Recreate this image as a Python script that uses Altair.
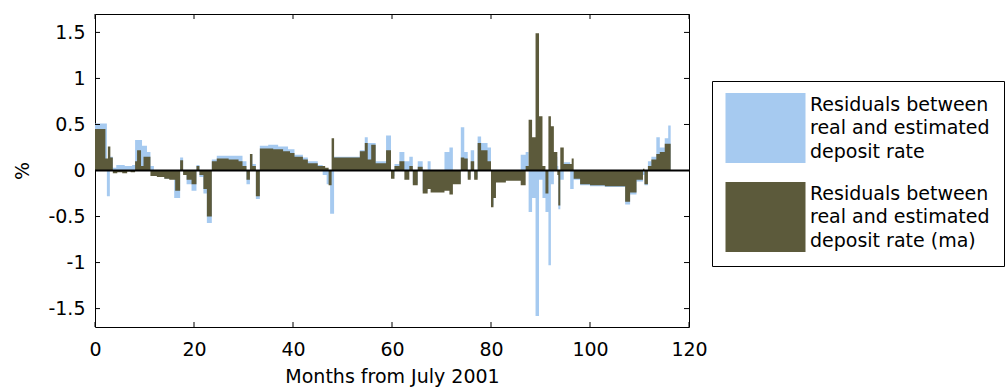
import altair as alt
import pandas as pd

# ---------------- data ----------------
# step breakpoints (months from July 2001) and residual values (%)
RES_M = [0, 2.4, 3.0, 3.6, 4.3, 6.0, 7.5, 8.1, 9.5, 10.5, 11.2, 11.9, 14.0, 16.0, 17.2, 17.8,
         18.5, 19.5, 20.5, 21.1, 21.9, 22.6, 23.6, 24.6, 29.8, 30.6, 31.3, 31.8, 32.5, 33.3,
         35.0, 37.0, 39.0, 40.3, 42.0, 43.0, 45.0, 46.0, 46.8, 47.5, 48.3, 53.5, 54.5, 55.1,
         55.8, 56.7, 58.8, 59.8, 60.5, 61.5, 62.5, 63.5, 64.2, 65.2, 66.2, 67.2, 67.8, 70.6,
         71.6, 72.3, 73.9, 74.6, 75.3, 75.9, 76.6, 77.3, 78.0, 79.3, 80.0, 80.5, 81.0, 83.0,
         86.0, 87.0, 87.6, 88.3, 89.0, 89.7, 90.4, 91.0, 91.6, 92.1, 92.7, 93.4, 93.6, 94.0,
         94.7, 96.0, 96.7, 98.0, 100.0, 103.0, 107.1, 108.1, 109.4, 110.7, 111.0, 111.7,
         112.4, 113.4, 114.1, 115.1, 115.8]
RES_V = [0.51, -0.28, 0.15, 0.03, 0.06, 0.05, 0.06, 0.33, 0.27, 0.20, 0.05, -0.06, -0.09, -0.30, 0.14, -0.03,
         -0.15, -0.22, 0.06, -0.07, -0.25, -0.57, 0.12, 0.16, 0.10, -0.15, 0.18, 0.07, -0.31, 0.27,
         0.28, 0.26, 0.23, 0.17, 0.14, 0.10, 0.06, -0.05, -0.15, -0.47, 0.15, 0.22, 0.36, 0.30,
         0.30, 0.10, 0.38, -0.06, 0.07, 0.20, 0.10, 0.15, -0.14, 0.10, -0.22, 0.10, -0.20, 0.20,
         0.25, -0.13, 0.47, 0.20, -0.08, 0.22, -0.08, 0.37, 0.30, 0.25, -0.38, -0.28, -0.12, -0.10,
         0.17, 0.20, -0.45, -0.30, -1.58, -0.10, -0.30, -0.45, -1.03, -0.15, 0.15, 0.05, -0.42, -0.10,
         0.09, -0.20, -0.10, -0.16, -0.17, -0.18, -0.37, -0.26, -0.12, -0.05, -0.16, 0.10,
         0.15, 0.36, 0.25, 0.35, 0.49]

MA_M = [0, 2.1, 2.6, 3.1, 3.6, 4.5, 5.5, 6.5, 7.2, 8.1, 8.5, 9.3, 9.8, 11.2, 12.5, 14.0, 15.0,
        16.2, 17.2, 17.8, 18.5, 19.5, 20.5, 21.1, 21.9, 22.6, 23.6, 24.6, 27.0, 29.0, 29.8,
        30.6, 31.3, 31.8, 32.5, 33.3, 36.0, 38.0, 39.4, 40.3, 42.0, 43.0, 45.0, 46.5, 47.2,
        47.8, 48.3, 53.5, 54.5, 55.1, 55.8, 56.7, 58.8, 59.8, 60.5, 61.5, 62.5, 63.5, 64.2,
        65.2, 66.2, 67.2, 67.8, 70.6, 71.6, 72.3, 73.9, 74.6, 75.3, 75.9, 76.6, 77.3, 78.0,
        79.3, 80.0, 80.5, 81.0, 83.0, 86.0, 87.0, 87.6, 88.3, 89.0, 89.7, 90.4, 91.0, 91.6,
        92.1, 92.7, 93.4, 93.6, 94.0, 94.7, 96.3, 96.7, 98.0, 100.0, 103.0, 105.0, 107.1,
        108.1, 109.4, 110.7, 111.0, 111.7, 112.4, 113.4, 114.1, 115.1]
MA_V = [0.45, 0.13, 0.26, 0.14, -0.03, -0.02, -0.03, -0.01, -0.02, 0.10, 0.22, 0.05, 0.15, -0.06, -0.07, -0.09, -0.10,
        -0.22, 0.11, -0.05, -0.10, -0.15, 0.05, -0.05, -0.20, -0.50, 0.10, 0.13, 0.12, 0.10, 0.05,
        -0.10, 0.18, 0.05, -0.28, 0.24, 0.23, 0.21, 0.19, 0.15, 0.12, 0.08, 0.05, 0.03, -0.16,
        0.35, 0.14, 0.21, 0.30, 0.12, 0.28, 0.08, 0.22, -0.09, 0.05, 0.10, -0.10, 0.05, -0.16,
        0.04, -0.25, -0.20, -0.24, -0.22, -0.26, -0.15, 0.14, 0.13, -0.10, 0.10, -0.10, 0.30, 0.22,
        0.10, -0.40, -0.30, -0.13, -0.11, -0.16, 0.05, 0.55, 0.36, 1.49, 0.59, 0.05, -0.25, 0.59,
        0.48, 0.20, -0.05, -0.38, 0.25, 0.07, 0.13, -0.09, -0.15, -0.16, -0.17, -0.17, -0.34,
        -0.24, -0.10, 0.02, -0.15, 0.05, 0.12, 0.18, 0.20, 0.29]

END_MONTH = 116.3

SERIES = ["Residuals between|real and estimated|deposit rate",
          "Residuals between|real and estimated|deposit rate (ma)"]
COLORS = ["#a6caf0", "#5c5a3b"]

X_TICKS = [0, 20, 40, 60, 80, 100, 120]
Y_TICKS = [-1.5, -1, -0.5, 0, 0.5, 1, 1.5]
ZERO = [0]

# ---------------- layout ----------------
W, H = 594, 313
TICK = 5
FONT = "DejaVu Sans"
FS = 19
LINE_H = 23.5


def frame(ms, vs, name):
    return pd.DataFrame({"m": list(ms) + [END_MONTH],
                         "v": list(vs) + [vs[-1]],
                         "series": name})


res_df = frame(RES_M, RES_V, SERIES[0])
ma_df = frame(MA_M, MA_V, SERIES[1])

xscale = alt.Scale(domain=[0, 120], nice=False, zero=False)
yscale = alt.Scale(domain=[-1.7, 1.7], nice=False, zero=False)

# symbol size 100 -> r = 5 px per unit; swatch 80x70 px, top aligned with first text line
SWATCH = "M-2,-2.3H14V11.7H-2Z"

color = alt.Color(
    "series:N",
    scale=alt.Scale(domain=SERIES, range=COLORS),
    legend=alt.Legend(
        orient="none", legendX=617, legendY=67, title=None,
        symbolType=SWATCH, symbolSize=100,
        symbolStrokeWidth=0, symbolOpacity=1,
        labelExpr="split(datum.label, '|')", labelFont=FONT, labelFontSize=FS,
        labelColor="black", labelLimit=400, labelOffset=65, labelBaseline="middle",
        padding=14, rowPadding=19, strokeColor="black", fillColor="white",
        cornerRadius=0,
    ),
)

xenc = alt.X("m:Q", scale=xscale,
             axis=alt.Axis(values=X_TICKS, title="Months from July 2001",
                           labelExpr="toString(datum.value)", labelPadding=13,
                           labelFlush=False, titlePadding=8))
yenc = alt.Y("v:Q", scale=yscale,
             axis=alt.Axis(values=Y_TICKS, title="%", labelExpr="toString(datum.value)",
                           labelPadding=10, labelFlush=False, titlePadding=15))

res_area = alt.Chart(res_df).mark_area(interpolate="step-after", clip=True, opacity=1).encode(
    x=xenc, y=yenc, color=color)
ma_area = alt.Chart(ma_df).mark_area(interpolate="step-after", clip=True, opacity=1).encode(
    x=alt.X("m:Q", scale=xscale), y=alt.Y("v:Q", scale=yscale), color=color)

zero_rule = alt.Chart(pd.DataFrame({"v": ZERO})).mark_rule(color="black", strokeWidth=1.8).encode(
    y=alt.Y("v:Q", scale=yscale))

yt = pd.DataFrame({"v": Y_TICKS})
xt = pd.DataFrame({"m": X_TICKS})
ytick_l = alt.Chart(yt).mark_rule(color="black").encode(
    y=alt.Y("v:Q", scale=yscale), x=alt.value(0), x2=alt.value(TICK))
ytick_r = alt.Chart(yt).mark_rule(color="black").encode(
    y=alt.Y("v:Q", scale=yscale), x=alt.value(W - TICK), x2=alt.value(W))
xtick_b = alt.Chart(xt).mark_rule(color="black").encode(
    x=alt.X("m:Q", scale=xscale), y=alt.value(H - TICK), y2=alt.value(H))
xtick_t = alt.Chart(xt).mark_rule(color="black").encode(
    x=alt.X("m:Q", scale=xscale), y=alt.value(0), y2=alt.value(TICK))

chart = alt.layer(res_area, ma_area, zero_rule, ytick_l, ytick_r, xtick_b, xtick_t).properties(
    width=W, height=H,
    autosize=alt.AutoSizeParams(type="none"),
    padding={"left": 95, "top": 14, "right": 316, "bottom": 61},
).configure(
    background="white",
    style={"guide-label": {"lineHeight": LINE_H}},
).configure_view(
    stroke="black", strokeWidth=1
).configure_axis(
    domain=False, ticks=False, grid=False,
    labelFont=FONT, labelFontSize=FS, labelColor="black",
    titleFont=FONT, titleFontSize=FS, titleFontWeight="normal", titleColor="black",
)

chart.save("out.html", embed_options={"renderer": "svg", "actions": False})
